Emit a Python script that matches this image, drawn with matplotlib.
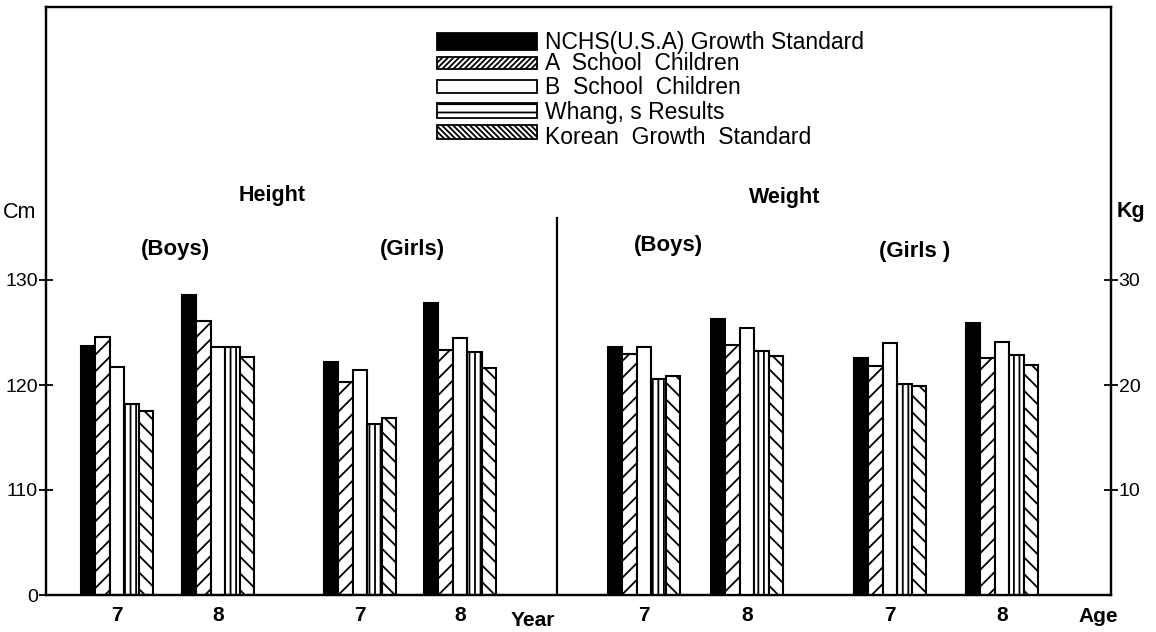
import matplotlib
matplotlib.use('Agg')
import matplotlib.pyplot as plt
from matplotlib.patches import Rectangle

plt.rcParams['font.family'] = ['Liberation Sans', 'DejaVu Sans']
plt.rcParams['hatch.linewidth'] = 1.3

series = ["NCHS(U.S.A) Growth Standard", "A  School  Children",
          "B  School  Children", "Whang, s Results", "Korean  Growth  Standard"]

# heights (cm), one value per series
height_boys_7 = [123.7, 124.6, 121.7, 118.2, 117.5]
height_boys_8 = [128.6, 126.1, 123.6, 123.6, 122.7]
height_girls_7 = [122.2, 120.3, 121.4, 116.3, 116.9]
height_girls_8 = [127.8, 123.3, 124.5, 123.1, 121.6]
# weights (kg)
weight_boys_7 = [23.6, 23.0, 23.6, 20.6, 20.9]
weight_boys_8 = [26.3, 23.8, 25.4, 23.2, 22.8]
weight_girls_7 = [22.6, 21.8, 24.0, 20.1, 19.9]
weight_girls_8 = [25.9, 22.6, 24.1, 22.9, 21.9]

age_labels = ["7", "8", "7", "8", "7", "8", "7", "8"]
height_ticks = [100, 110, 120, 130]
height_tick_labels = ["0", "110", "120", "130"]
weight_ticks = [10, 20, 30]
weight_tick_labels = ["10", "20", "30"]

fills = ['black', 'white', 'white', 'white', 'white']
hatches = [None, '//', None, '|||', '\\\\']
legend_hatches = [None, '//////', None, '--', '\\\\\\\\\\\\']

W, H = 1156, 632
fig = plt.figure(figsize=(W / 100, H / 100), dpi=100)
ax = fig.add_axes([46 / W, 37 / H, (1111 - 46) / W, 588 / H])
ax2 = ax.twinx()

# group centres in pixel-like x units
height_centres = [117, 218, 360, 460]
weight_centres = [644, 747, 890, 1002]
bw = 14.5
offsets = [-2, -1, 0, 1, 2]

height_groups = [height_boys_7, height_boys_8, height_girls_7, height_girls_8]
weight_groups = [weight_boys_7, weight_boys_8, weight_girls_7, weight_girls_8]

for c, vals in zip(height_centres, height_groups):
    for k, v in enumerate(vals):
        ax.bar(c + offsets[k] * bw, v - 100, bottom=100, width=bw,
               color=fills[k], edgecolor='black', hatch=hatches[k], linewidth=1.5)
for c, vals in zip(weight_centres, weight_groups):
    for k, v in enumerate(vals):
        ax2.bar(c + offsets[k] * bw, v, width=bw,
                color=fills[k], edgecolor='black', hatch=hatches[k], linewidth=1.5)

ax.set_xlim(46, 1111)
ax.set_ylim(100, 156)
ax2.set_ylim(0, 56)

ax.set_yticks(height_ticks)
ax.set_yticklabels(height_tick_labels, fontsize=14)
ax.tick_params(axis='y', direction='inout', length=10, width=1.3, pad=1)
ax2.set_yticks(weight_ticks)
ax2.set_yticklabels(weight_tick_labels, fontsize=14)
ax2.tick_params(axis='y', direction='inout', length=10, width=1.3, pad=0.5)

ax.set_xticks(height_centres + weight_centres)
ax.set_xticklabels(age_labels, fontsize=15, fontweight='bold')
ax.tick_params(axis='x', length=0, pad=8)

for a in (ax, ax2):
    for s in a.spines.values():
        s.set_linewidth(1.6)

ax.axvline(557, ymin=0, ymax=(595 - 218) / 588, color='black', linewidth=1.6)

# overlay in pixel coordinates for annotations and legend
ov = fig.add_axes([0, 0, 1, 1])
ov.set_xlim(0, W)
ov.set_ylim(H, 0)
ov.axis('off')
ov.patch.set_alpha(0)

sw_rows = [(33, 50), (57, 69), (80, 93), (103, 118), (125, 139)]
txt_rows = [42, 63, 87, 112, 138]
for k in range(5):
    y0, y1 = sw_rows[k]
    ov.add_patch(Rectangle((437, y0), 100, y1 - y0, facecolor=fills[k],
                           edgecolor='black', hatch=legend_hatches[k], linewidth=1.3))
    ov.text(545, txt_rows[k], series[k], fontsize=16.5, va='center', ha='left')

ov.text(20, 212, "Cm", fontsize=15.5, ha='center', va='center')
ov.text(1131, 212, "Kg", fontsize=15.5, ha='center', va='center', fontweight='bold')
ov.text(272, 195, "Height", fontsize=15.5, ha='center', va='center', fontweight='bold')
ov.text(785, 198, "Weight", fontsize=15.5, ha='center', va='center', fontweight='bold')
ov.text(175, 250, "(Boys)", fontsize=16, ha='center', va='center', fontweight='bold')
ov.text(412, 250, "(Girls)", fontsize=16, ha='center', va='center', fontweight='bold')
ov.text(668, 246, "(Boys)", fontsize=16, ha='center', va='center', fontweight='bold')
ov.text(915, 252, "(Girls )", fontsize=16, ha='center', va='center', fontweight='bold')
ov.text(533, 620, "Year", fontsize=15, ha='center', va='center', fontweight='bold')
ov.text(1098, 616, "Age", fontsize=15, ha='center', va='center', fontweight='bold')

fig.savefig('out.png', dpi=100)
